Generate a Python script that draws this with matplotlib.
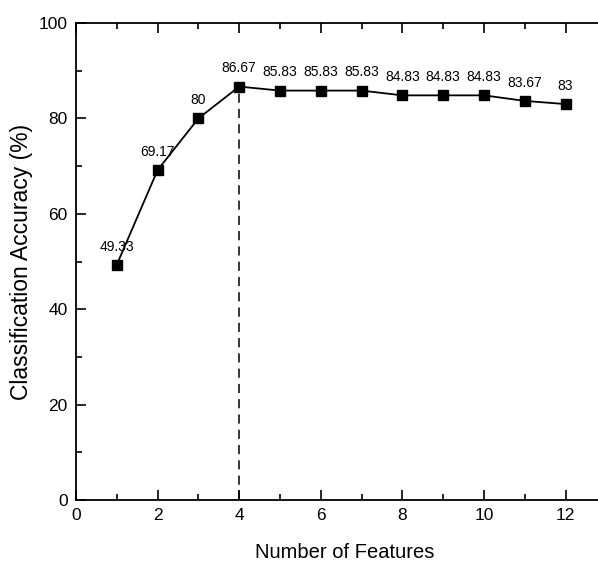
import numpy as np
import matplotlib
matplotlib.use("Agg")
import matplotlib.pyplot as plt
from matplotlib.ticker import MultipleLocator

plt.rcParams['font.family'] = ['Liberation Sans', 'DejaVu Sans']

## dati
n_features = [1, 2, 3, 4, 5, 6, 7, 8, 9, 10, 11, 12]
accuracy = [49.33, 69.17, 80, 86.67, 85.83, 85.83, 85.83, 84.83, 84.83, 84.83, 83.67, 83]
labels = ["49.33", "69.17", "80", "86.67", "85.83", "85.83", "85.83",
          "84.83", "84.83", "84.83", "83.67", "83"]
best_n = 4

fig = plt.figure(figsize=(5.98, 5.64), dpi=100)
# l'asse continua oltre il bordo destro (spina destra fuori dall'immagine)
ax = fig.add_axes([76/598, 64/564, 538/598, 477/564])

ax.plot(n_features, accuracy, color='black', lw=1.3, marker='s', ms=7.5,
        markerfacecolor='black', markeredgecolor='black')
best_acc = accuracy[n_features.index(best_n)]
ax.plot([best_n, best_n], [0, best_acc], color='black', lw=1.1, ls=(0, (6, 4)))

for x, y, t in zip(n_features, accuracy, labels):
    ax.annotate(t, (x, y), xytext=(0, 8), textcoords='offset points',
                ha='center', va='bottom', fontsize=10)

ax.set_xlim(0, 538/40.8)
ax.set_ylim(0, 100)
ax.xaxis.set_major_locator(MultipleLocator(2))
ax.xaxis.set_minor_locator(MultipleLocator(1))
ax.yaxis.set_major_locator(MultipleLocator(20))
ax.yaxis.set_minor_locator(MultipleLocator(10))
ax.set_xticks([0, 2, 4, 6, 8, 10, 12])
ax.tick_params(which='both', direction='in', top=True, right=True, width=1.2,
               labelsize=12.5, pad=6)
ax.tick_params(which='major', length=7)
ax.tick_params(which='minor', length=4)
for s in ax.spines.values():
    s.set_linewidth(1.3)

ax.set_xlabel("Number of Features", fontsize=14.5, labelpad=14)
ax.set_ylabel("Classification Accuracy (%)", fontsize=16.5, labelpad=4)

plt.savefig("out.png", dpi=100)
